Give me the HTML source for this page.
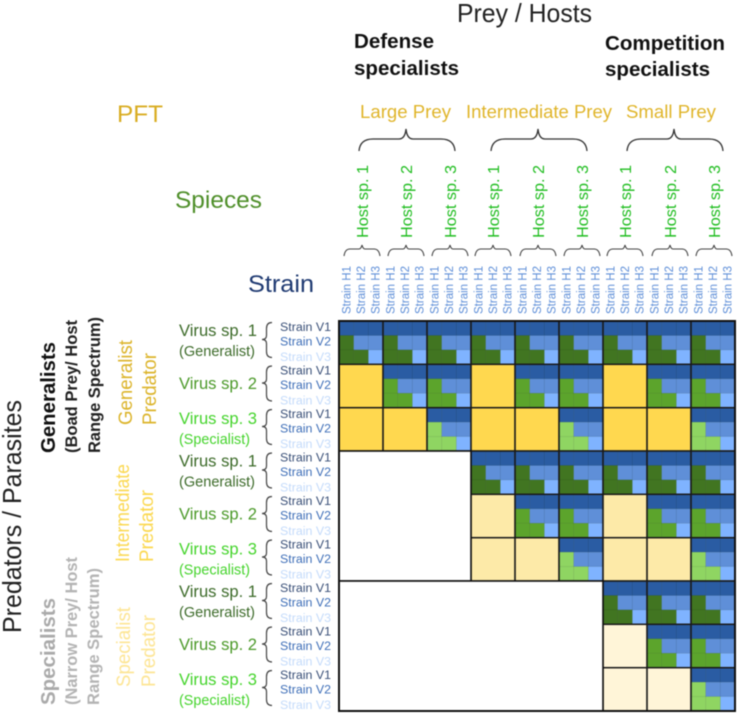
<!DOCTYPE html>
<html lang="en">
<head>
<meta charset="utf-8">
<title>Predator prey interaction matrix</title>
<style>
html,body{margin:0;padding:0;background:#fff;width:737px;height:716px;overflow:hidden}
svg{display:block;filter:blur(0.4px)}
text{font-family:"Liberation Sans",sans-serif}
</style>
</head>
<body>
<svg id="chart" xmlns="http://www.w3.org/2000/svg" width="737" height="716" viewBox="0 0 737 716">
<rect width="737" height="716" fill="#fff"/>
<text x="457" y="22" font-size="26" fill="#222" textLength="135" lengthAdjust="spacingAndGlyphs">Prey / Hosts</text>
<text x="354" y="48" font-size="20" font-weight="bold" fill="#111" textLength="80" lengthAdjust="spacingAndGlyphs">Defense</text>
<text x="354" y="75" font-size="20" font-weight="bold" fill="#111" textLength="105" lengthAdjust="spacingAndGlyphs">specialists</text>
<text x="605" y="50" font-size="20" font-weight="bold" fill="#111" textLength="120" lengthAdjust="spacingAndGlyphs">Competition</text>
<text x="605" y="76" font-size="20" font-weight="bold" fill="#111" textLength="105" lengthAdjust="spacingAndGlyphs">specialists</text>
<text x="117" y="122" font-size="24" fill="#d9ad22" textLength="46" lengthAdjust="spacingAndGlyphs">PFT</text>
<text x="175" y="208" font-size="24" fill="#4f8f2a" textLength="87" lengthAdjust="spacingAndGlyphs">Spieces</text>
<text x="248" y="292" font-size="24" fill="#1f3a72" textLength="66" lengthAdjust="spacingAndGlyphs">Strain</text>
<text x="360" y="118" font-size="18.5" fill="#e0b52a" textLength="91" lengthAdjust="spacingAndGlyphs">Large Prey</text>
<text x="466" y="118" font-size="18.5" fill="#e0b52a" textLength="146" lengthAdjust="spacingAndGlyphs">Intermediate Prey</text>
<text x="626" y="118" font-size="18.5" fill="#e0b52a" textLength="90" lengthAdjust="spacingAndGlyphs">Small Prey</text>
<text transform="translate(21,633) rotate(-90)" font-size="26" fill="#222" textLength="233" lengthAdjust="spacingAndGlyphs">Predators / Parasites</text>
<text transform="translate(55,453) rotate(-90)" font-size="20" font-weight="bold" fill="#111" textLength="111" lengthAdjust="spacingAndGlyphs">Generalists</text>
<text transform="translate(77,453) rotate(-90)" font-size="16.5" font-weight="bold" fill="#222" textLength="133" lengthAdjust="spacingAndGlyphs">(Boad Prey/ Host</text>
<text transform="translate(100,453) rotate(-90)" font-size="16.5" font-weight="bold" fill="#222" textLength="136" lengthAdjust="spacingAndGlyphs">Range Spectrum)</text>
<text transform="translate(55,705) rotate(-90)" font-size="20" font-weight="bold" fill="#aaa" textLength="107" lengthAdjust="spacingAndGlyphs">Specialists</text>
<text transform="translate(77,705) rotate(-90)" font-size="16.5" font-weight="bold" fill="#b4b4b4" textLength="148" lengthAdjust="spacingAndGlyphs">(Narrow Prey/ Host</text>
<text transform="translate(99,705) rotate(-90)" font-size="16.5" font-weight="bold" fill="#b4b4b4" textLength="137" lengthAdjust="spacingAndGlyphs">Range Spectrum)</text>
<text transform="translate(132,425) rotate(-90)" font-size="19" fill="#dcb42a" textLength="85" lengthAdjust="spacingAndGlyphs">Generalist</text>
<text transform="translate(156,425) rotate(-90)" font-size="19" fill="#dcb42a" textLength="72" lengthAdjust="spacingAndGlyphs">Predator</text>
<text transform="translate(129,562) rotate(-90)" font-size="19" fill="#fbd84f" textLength="98" lengthAdjust="spacingAndGlyphs">Intermediate</text>
<text transform="translate(153,562) rotate(-90)" font-size="19" fill="#fbd84f" textLength="72" lengthAdjust="spacingAndGlyphs">Predator</text>
<text transform="translate(130,687) rotate(-90)" font-size="19" fill="#fde594" textLength="80" lengthAdjust="spacingAndGlyphs">Specialist</text>
<text transform="translate(155,687) rotate(-90)" font-size="19" fill="#fde594" textLength="72" lengthAdjust="spacingAndGlyphs">Predator</text>
<g id="layer-labels"></g>
<g id="layer-cells"></g>
<g id="layer-grid"></g>
</svg>
<script>
// Categories
const hostSpecies = ['Host sp. 1','Host sp. 2','Host sp. 3','Host sp. 1','Host sp. 2','Host sp. 3','Host sp. 1','Host sp. 2','Host sp. 3'];
const hostStrains = ['Strain H1','Strain H2','Strain H3'];
const virusSpecies = ['Virus sp. 1','Virus sp. 2','Virus sp. 3','Virus sp. 1','Virus sp. 2','Virus sp. 3','Virus sp. 1','Virus sp. 2','Virus sp. 3'];
const virusRoles = ['(Generalist)','','(Specialist)','(Generalist)','','(Specialist)','(Generalist)','','(Specialist)'];
const virusStrains = ['Strain V1','Strain V2','Strain V3'];
// Interaction codes per virus (row) and host (column):
// 0 none, 1/2/3 strong/mid/weak no-infection, 4/5/6 infection by generalist/mid/specialist virus
const interactions = [
  [4,4,4,4,4,4,4,4,4],
  [1,5,5,1,5,5,1,5,5],
  [1,1,6,1,1,6,1,1,6],
  [0,0,0,4,4,4,4,4,4],
  [0,0,0,2,5,5,2,5,5],
  [0,0,0,2,2,6,2,2,6],
  [0,0,0,0,0,0,4,4,4],
  [0,0,0,0,0,0,3,5,5],
  [0,0,0,0,0,0,3,3,6]
];
// Strain-level pattern: 0 host-blue, 1 mid-blue, 2 light-blue, 3 virus-green
const strainPattern = [
  [0,0,0],
  [3,1,1],
  [3,3,2]
];

const svgNS = 'http://www.w3.org/2000/svg';
const plainFill = {1:'#ffd84f',2:'#fdeaa8',3:'#fff5d8'};
const greenFill = {4:'#417521',5:'#5ca42c',6:'#8fd562'};
const blueFill = ['#2a5ca3','#5f8fd8','#7fb3ff'];
const speciesGreen = ['#3d6b2a','#4c9a2a','#45d42c'];
const x = i => 339 + 44 * i;
const y = i => 321 + (390 / 9) * i;
const cellW = x(1) - x(0);
const cellH = y(1) - y(0);
const labels = document.getElementById('layer-labels');
const cells = document.getElementById('layer-cells');
const grid = document.getElementById('layer-grid');

function make(tag, attrs, parent, content) {
  const el = document.createElementNS(svgNS, tag);
  for (const k in attrs) el.setAttribute(k, attrs[k]);
  if (content !== undefined) el.textContent = content;
  parent.appendChild(el);
  return el;
}
function hBracePath(x1, x2, tip, yTip, yMid, yEnd, r) {
  return `M${x1},${yEnd} Q${x1+1},${yMid} ${x1+r},${yMid} L${tip-r/2},${yMid} Q${tip-1},${yMid} ${tip},${yTip} Q${tip+1},${yMid} ${tip+r/2},${yMid} L${x2-r},${yMid} Q${x2-1},${yMid} ${x2},${yEnd}`;
}
function vBracePath(xEnd, xMid, xTip, y1, y2, tip) {
  return `M${xEnd},${y1} Q${xMid},${y1} ${xMid},${y1+6} L${xMid},${tip-4} Q${xMid},${tip} ${xTip},${tip} Q${xMid},${tip} ${xMid},${tip+4} L${xMid},${y2-6} Q${xMid},${y2} ${xEnd},${y2}`;
}

// PFT braces
const pftBraceGroups = [0,3,6];
pftBraceGroups.forEach(g => {
  const left = x(g) + 20 + (g === 6 ? 4 : 0);
  const p = make('path', {d: hBracePath(left, left + 96, left + 47, 129, 139, 151, 14), fill:'none', stroke:'#333', 'stroke-width':1.3}, labels);
  
  
});

// Host labels
hostSpecies.forEach((name, c) => {
  const cx = x(c) + 23 - (c % 3 === 0 && c > 0 ? 1 : 0);
  const t = make('text', {transform:`translate(${cx + 6},238) rotate(-90)`, 'font-size':16, fill:'#1fbd1f', textLength:73, lengthAdjust:'spacingAndGlyphs'}, labels, name);
  
  
  const b = make('path', {d: hBracePath(cx - 18, cx + 18, cx, 245, 249, 256, 6), fill:'none', stroke:'#444', 'stroke-width':1.1}, labels);
  
  
  hostStrains.forEach((s, i) => {
    const sx = x(c) + 7.5 + 14.5 * i;
    const l = make('text', {transform:`translate(${sx + 4},314) rotate(-90)`, 'font-size':11.5, fill:'#5f8fd8', textLength:48, lengthAdjust:'spacingAndGlyphs'}, labels, s);
    
    
  });
});

// Virus labels
const strainColors = ['#3a5078','#3f6fb8','#c4dbfb'];
virusSpecies.forEach((name, r) => {
  const block = Math.floor(r / 3);
  const k = r % 3;
  const nameBase = [336, 389, 424][k] + block * 130.5;
  const t = make('text', {x:179, y:nameBase, 'font-size':16.5, fill:speciesGreen[k], textLength:78, lengthAdjust:'spacingAndGlyphs'}, labels, name);
  
  
  if (virusRoles[r]) {
    const rl = make('text', {x:179, y:nameBase + 20, 'font-size':14.5, fill:speciesGreen[k], textLength:k === 0 ? 76 : 71, lengthAdjust:'spacingAndGlyphs'}, labels, virusRoles[r]);
    
    
  }
  const top = 322.5 + 43.5 * r;
  const br = make('path', {d: vBracePath(272, 266.5, 262, top, top + 35, top + 17), fill:'none', stroke:'#444', 'stroke-width':1.2}, labels);
  
  
  virusStrains.forEach((s, i) => {
    const sy = 331 + 43.5 * r + [0, 14.5, 30][i];
    const l = make('text', {x:280, y:sy, 'font-size':11.5, fill:strainColors[i], textLength:51, lengthAdjust:'spacingAndGlyphs'}, labels, s);
    
    
  });
});

// Matrix cells
interactions.forEach((row, r) => {
  row.forEach((code, c) => {
    if (code === 0) return;
    if (code <= 3) {
      const m = make('rect', {x:x(c), y:y(r), width:cellW, height:cellH, fill:plainFill[code]}, cells);
      
      
      return;
    }
    strainPattern.forEach((pRow, i) => {
      pRow.forEach((kind, j) => {
        const fill = kind === 3 ? greenFill[code] : blueFill[kind];
        const m = make('rect', {x:x(c) + j * cellW / 3, y:y(r) + i * cellH / 3, width:cellW / 3 + 0.2, height:cellH / 3 + 0.2, fill:fill, stroke:'rgba(30,50,30,.18)', 'stroke-width':0.5}, cells);
        
        
      });
    });
  });
});

// Grid lines around each filled species block
interactions.forEach((row, r) => {
  row.forEach((code, c) => {
    if (code === 0) return;
    const g = make('rect', {x:x(c), y:y(r), width:cellW, height:cellH, fill:'none', stroke:'#1a1a1a', 'stroke-width':1.4}, grid);
    
    
  });
});
const blankA = make('rect', {x:x(0), y:y(3), width:3 * cellW, height:3 * cellH, fill:'#fff', stroke:'#111', 'stroke-width':1.6}, grid);


const blankB = make('rect', {x:x(0), y:y(6), width:6 * cellW, height:3 * cellH, fill:'#fff', stroke:'#111', 'stroke-width':1.6}, grid);


const frame = make('rect', {x:x(0), y:y(0), width:9 * cellW, height:9 * cellH, fill:'none', stroke:'#111', 'stroke-width':2}, grid);


</script>
</body>
</html>
